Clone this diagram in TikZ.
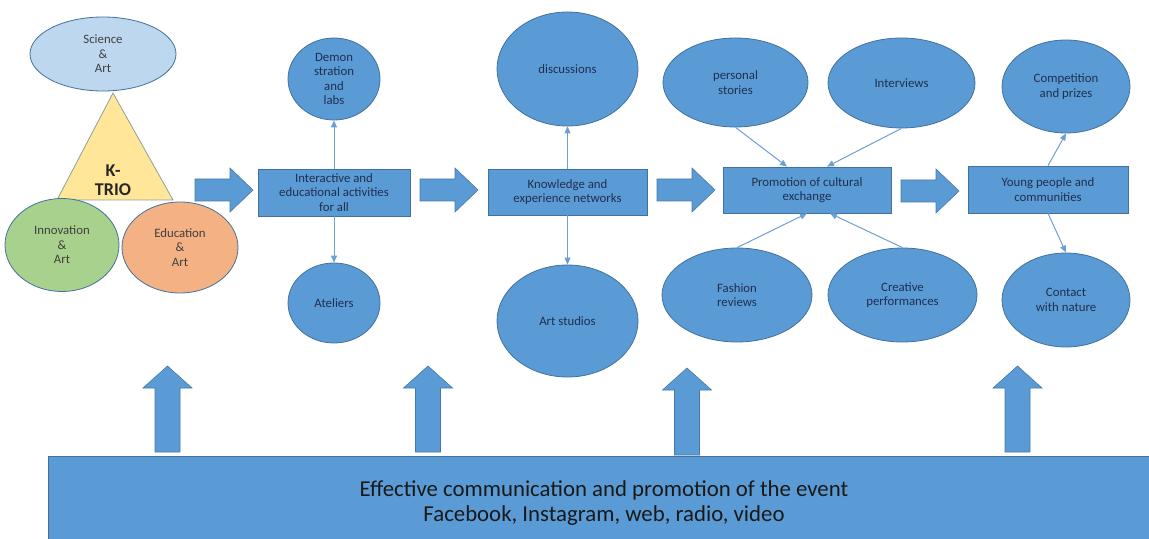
\documentclass[tikz,border=0pt]{standalone}
\usepackage{fontspec}
\setmainfont{Carlito}
\usetikzlibrary{shapes.geometric,arrows.meta,calc}
\definecolor{blu}{HTML}{5B9BD5}
\definecolor{bord}{HTML}{41719C}
\definecolor{txt}{HTML}{1F2F4F}
\definecolor{gtxt}{HTML}{404040}
\definecolor{cline}{HTML}{6C9FD2}
\definecolor{lblue}{HTML}{BDD7EE}
\definecolor{lgreen}{HTML}{A9D18E}
\definecolor{lorange}{HTML}{F4B183}
\definecolor{lyellow}{HTML}{FFE699}
\tikzset{
  ell/.style={ellipse, fill=blu, draw=bord, line width=0.4pt, inner sep=0pt, align=center,
    font=\fontsize{6.4}{7.2}\selectfont, text=txt},
  lell/.style={ell, text=gtxt},
  boxnode/.style={rectangle, fill=blu, draw=bord, line width=0.4pt, inner sep=0pt, align=center,
    font=\fontsize{6.4}{7.2}\selectfont, text=txt},
  conn/.style={draw=cline, line width=0.5pt, -{Triangle[length=3.5pt,width=3pt]}},
  blockarrow/.style={fill=blu, draw=bord!80!blu, line width=0.3pt}
}
\begin{document}
\begin{tikzpicture}[x=0.5pt,y=-0.5pt]
\useasboundingbox (0,0) rectangle (1149,539);
% K-TRIO group
\filldraw[fill=lyellow, draw=bord!60!lyellow, line width=0.4pt] (113,93) -- (173,200) -- (57,200) -- cycle;
\node[font=\bfseries\fontsize{9}{9.7}\selectfont, text=black!85, align=center] (ktrio) at (113,180) {K-\\TRIO};
\node[lell, fill=lblue, minimum width=73pt, minimum height=37pt] (sci) at (103,54) {Science\\\&\\Art};
\node[lell, fill=lgreen, minimum width=57pt, minimum height=46.5pt] (inn) at (62,245) {Innovation\\\&\\Art};
\node[lell, fill=lorange, minimum width=58pt, minimum height=45.5pt] (edu) at (180,247.5) {Education\\\&\\Art};

% horizontal block arrows
\foreach \xa/\yc in {195/190, 420/190, 657/190, 901/191}{
  \filldraw[blockarrow] (\xa,\yc-11) -- (\xa+35,\yc-11) -- (\xa+35,\yc-22) -- (\xa+58,\yc)
    -- (\xa+35,\yc+22) -- (\xa+35,\yc+11) -- (\xa,\yc+11) -- cycle;
}

% boxes
\node[boxnode, minimum width=76pt, minimum height=23.5pt] (b1) at (334,192.5) {Interactive and\\educational activities\\for all};
\node[boxnode, minimum width=79.5pt, minimum height=23pt] (b2) at (567.5,192) {Knowledge and\\experience networks};
\node[boxnode, minimum width=84pt, minimum height=23pt] (b3) at (807,190) {Promotion of cultural\\exchange};
\node[boxnode, minimum width=80pt, minimum height=23.5pt] (b4) at (1048,189.5) {Young people and\\communities};

% ellipses
\node[ell, minimum width=46pt, minimum height=41pt] (demo) at (334,79) {Demon\\stration\\and\\labs};
\node[ell, minimum width=46pt, minimum height=40pt] (atel) at (334,303) {Ateliers};
\node[ell, minimum width=70.5pt, minimum height=57pt] (disc) at (567.5,69) {discussions};
\node[ell, minimum width=70.5pt, minimum height=56pt] (arts) at (567.5,321) {Art studios};
\node[ell, minimum width=72.5pt, minimum height=44.5pt] (pers) at (735.5,82.5) {personal\\stories};
\node[ell, minimum width=73.5pt, minimum height=45pt] (intv) at (901.5,83) {Interviews};
\node[ell, minimum width=75pt, minimum height=47pt] (fash) at (737,295) {Fashion\\reviews};
\node[ell, minimum width=74.5pt, minimum height=47pt] (crea) at (902.5,295) {Creative\\performances};
\node[ell, minimum width=64pt, minimum height=46.5pt] (comp) at (1066,86.5) {Competition\\and prizes};
\node[ell, minimum width=64pt, minimum height=47pt] (cont) at (1066,300) {Contact\\with nature};

% connectors
\draw[conn] (b1.north) -- (demo.south);
\draw[conn] (b1.south) -- (atel.north);
\draw[conn] (b2.north) -- (disc.south);
\draw[conn] (b2.south) -- (arts.north);
\draw[conn] (pers.south) -- ([xshift=-10pt]b3.north);
\draw[conn] (intv.south) -- ([xshift=10pt]b3.north);
\draw[conn] (fash.north) -- (b3.south);
\draw[conn] (crea.north) -- ([xshift=11.5pt]b3.south);
\draw[conn] (b4.north) -- (comp.south);
\draw[conn] (b4.south) -- (cont.north);

% bottom bar
\node[rectangle, fill=blu, draw=bord, line width=0.4pt, minimum width=556pt, minimum height=41.5pt,
  inner sep=0pt] (bar) at (604,497.5) {};
\node[align=center, inner sep=0pt, font=\fontsize{11.4}{12.5}\selectfont, text=black!90] (bartext) at (604,503)
  {Effective communication and promotion of the event\\Facebook, Instagram, web, radio, video};

% vertical block arrows
\foreach \xc/\yt/\yb in {167.5/366/452, 428/366/452, 687/368/455, 1017.5/366/452}{
  \filldraw[blockarrow] (\xc-12.5,\yb) -- (\xc-12.5,\yt+22) -- (\xc-24.5,\yt+22) -- (\xc,\yt)
    -- (\xc+24.5,\yt+22) -- (\xc+12.5,\yt+22) -- (\xc+12.5,\yb) -- cycle;
}
\end{tikzpicture}
\end{document}
